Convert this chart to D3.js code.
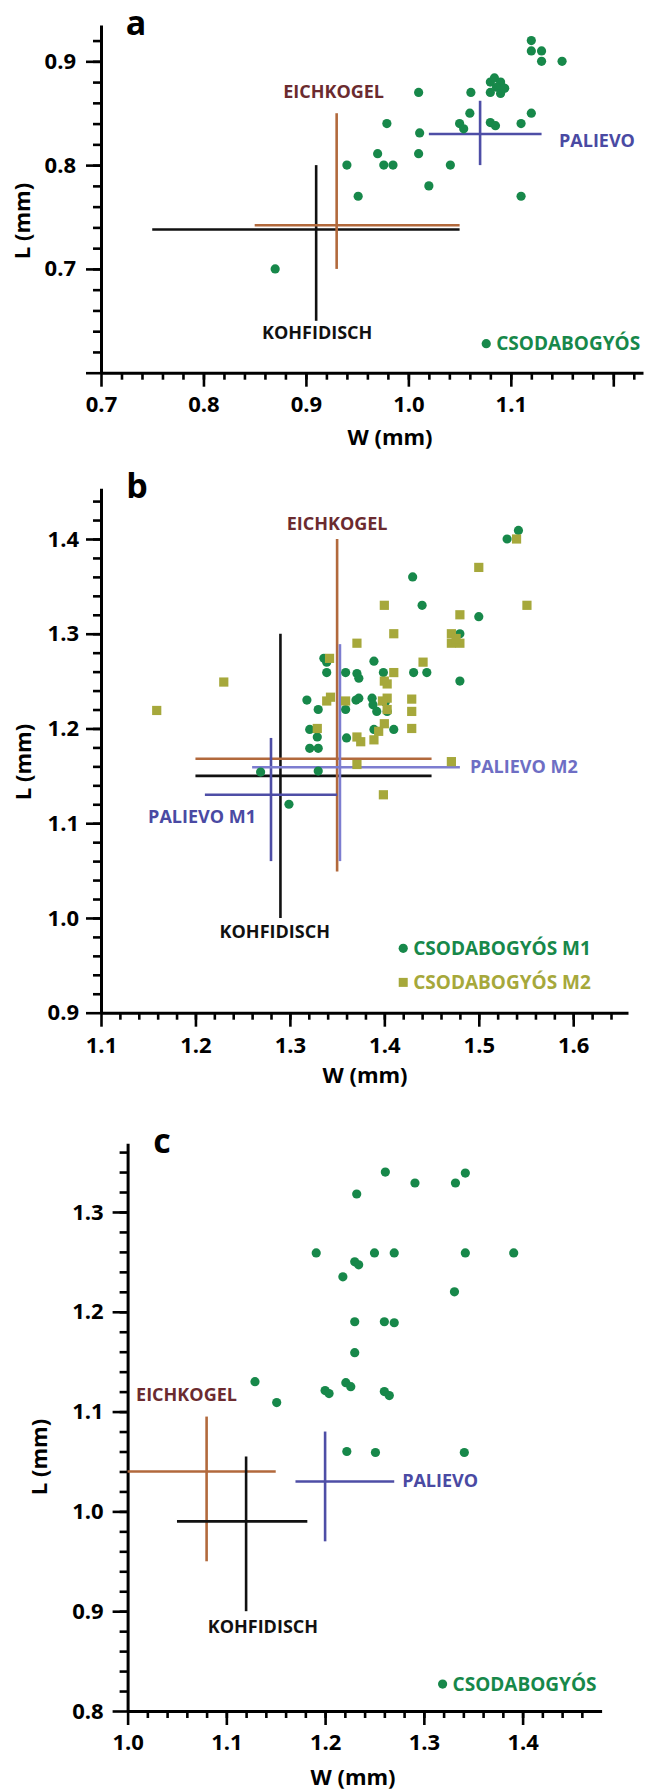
<!DOCTYPE html>
<html>
<head>
<meta charset="utf-8">
<script src="https://cdn.jsdelivr.net/npm/d3@7"></script>
<style>
  body { margin: 0; background: #fff; }
  svg text { font-family: "Open Sans", sans-serif; }
  .axis .tick text { font-weight: 700; font-size: 22px; fill: #000; }
  .axis path, .axis line { stroke: #000; }
  .axis path { stroke-width: 3; }
  .axis line { stroke-width: 2.6; }
  .lbl { font-weight: 700; font-size: 18px; }
  .leg { font-weight: 700; font-size: 19px; }
  .title { font-weight: 700; font-size: 22px; }
  .panel { font-weight: 700; font-size: 34px; }
</style>
</head>
<body>
<div id="chart"></div>
<script>
// ---- panel a : Csodabogyós (W, L in mm)
let aW = [1.12, 1.12, 1.13, 1.13, 1.15, 1.08, 1.084, 1.09, 1.092, 1.086, 1.094, 1.08, 1.09, 1.061, 1.01, 1.06, 1.12,
  0.979, 1.05, 1.054, 1.08, 1.085, 1.11, 1.011, 0.97, 1.01, 0.94, 0.976, 0.985, 1.041, 1.02, 0.951, 1.11, 0.87];
let aL = [0.92, 0.91, 0.91, 0.90, 0.90, 0.88, 0.884, 0.88, 0.875, 0.875, 0.874, 0.87, 0.869, 0.87, 0.87, 0.85, 0.85,
  0.84, 0.84, 0.835, 0.841, 0.838, 0.84, 0.831, 0.811, 0.811, 0.80, 0.80, 0.80, 0.80, 0.78, 0.77, 0.77, 0.70];

// ---- panel b : Csodabogyós M1 (circles) and M2 (squares)
let bW1 = [1.542, 1.53, 1.43, 1.44, 1.50, 1.48, 1.48, 1.431, 1.445, 1.389, 1.399, 1.336, 1.339, 1.339, 1.359, 1.371,
  1.373, 1.318, 1.370, 1.373, 1.387, 1.388, 1.392, 1.403, 1.401, 1.33, 1.359, 1.321, 1.389, 1.41, 1.329, 1.36,
  1.321, 1.33, 1.269, 1.33, 1.299];
let bL1 = [1.409, 1.40, 1.36, 1.33, 1.318, 1.30, 1.25, 1.259, 1.259, 1.271, 1.259, 1.274, 1.27, 1.259, 1.259, 1.258,
  1.253, 1.23, 1.23, 1.232, 1.232, 1.225, 1.218, 1.218, 1.228, 1.22, 1.22, 1.199, 1.199, 1.199, 1.191, 1.19,
  1.179, 1.179, 1.154, 1.155, 1.12];
let bW2 = [1.54, 1.50, 1.40, 1.551, 1.48, 1.41, 1.471, 1.471, 1.48, 1.476, 1.371, 1.342, 1.441, 1.41, 1.40, 1.403,
  1.23, 1.159, 1.339, 1.343, 1.359, 1.403, 1.398, 1.403, 1.429, 1.429, 1.329, 1.429, 1.40, 1.394, 1.371, 1.375,
  1.389, 1.371, 1.471, 1.399];
let bL2 = [1.40, 1.37, 1.33, 1.33, 1.32, 1.30, 1.30, 1.29, 1.29, 1.295, 1.29, 1.274, 1.27, 1.259, 1.25, 1.247,
  1.249, 1.219, 1.229, 1.233, 1.229, 1.232, 1.229, 1.22, 1.231, 1.218, 1.20, 1.20, 1.205, 1.197, 1.191, 1.186,
  1.188, 1.162, 1.165, 1.13];

// ---- panel c : Csodabogyós
let cW = [1.261, 1.291, 1.332, 1.342, 1.232, 1.191, 1.23, 1.234, 1.25, 1.27, 1.342, 1.391, 1.218, 1.331, 1.23, 1.26,
  1.27, 1.23, 1.129, 1.151, 1.2, 1.204, 1.221, 1.226, 1.26, 1.265, 1.222, 1.251, 1.341];
let cL = [1.34, 1.329, 1.329, 1.339, 1.318, 1.259, 1.25, 1.247, 1.259, 1.259, 1.259, 1.259, 1.235, 1.22, 1.19, 1.19,
  1.189, 1.159, 1.13, 1.109, 1.121, 1.118, 1.129, 1.125, 1.12, 1.116, 1.06, 1.059, 1.059];

// other sites: mean with range (W and L)
let crossesA = [
  { site: "Kohfidisch", w: 0.91, wMin: 0.75, wMax: 1.05, l: 0.738, lMin: 0.65, lMax: 0.80 },
  { site: "Eichkogel", w: 0.93, wMin: 0.85, wMax: 1.05, l: 0.742, lMin: 0.70, lMax: 0.85 },
  { site: "Palievo", w: 1.07, wMin: 1.02, wMax: 1.13, l: 0.83, lMin: 0.80, lMax: 0.862 },
];
let crossesB = [
  { site: "Kohfidisch", w: 1.29, wMin: 1.20, wMax: 1.45, l: 1.15, lMin: 1.00, lMax: 1.30 },
  { site: "Eichkogel", w: 1.35, wMin: 1.20, wMax: 1.45, l: 1.168, lMin: 1.049, lMax: 1.40 },
  { site: "Palievo", w: 1.28, wMin: 1.21, wMax: 1.35, l: 1.13, lMin: 1.06, lMax: 1.19 },
  { site: "PalievoM2", w: 1.353, wMin: 1.26, wMax: 1.48, l: 1.159, lMin: 1.06, lMax: 1.289 },
];
let crossesC = [
  { site: "Eichkogel", w: 1.08, wMin: 1.0, wMax: 1.15, l: 1.04, lMin: 0.95, lMax: 1.095 },
  { site: "Kohfidisch", w: 1.12, wMin: 1.05, wMax: 1.182, l: 0.99, lMin: 0.90, lMax: 1.055 },
  { site: "Palievo", w: 1.20, wMin: 1.17, wMax: 1.27, l: 1.03, lMin: 0.97, lMax: 1.08 },
];

// site labels (anchored in data units)
let namesA = [
  { text: "EICHKOGEL", site: "Eichkogel", w: 0.927, l: 0.865, anchor: "middle" },
  { text: "KOHFIDISCH", site: "Kohfidisch", w: 0.911, l: 0.632, anchor: "middle" },
  { text: "PALIEVO", site: "Palievo", w: 1.147, l: 0.817, anchor: "start" },
];
let namesB = [
  { text: "EICHKOGEL", site: "Eichkogel", w: 1.35, l: 1.4095, anchor: "middle" },
  { text: "PALIEVO M2", site: "PalievoM2", w: 1.4906, l: 1.153, anchor: "start" },
  { text: "PALIEVO M1", site: "Palievo", w: 1.207, l: 1.100, anchor: "middle" },
  { text: "KOHFIDISCH", site: "Kohfidisch", w: 1.284, l: 0.979, anchor: "middle" },
];
let namesC = [
  { text: "EICHKOGEL", site: "Eichkogel", w: 1.0086, l: 1.111, anchor: "start" },
  { text: "PALIEVO", site: "Palievo", w: 1.278, l: 1.0245, anchor: "start" },
  { text: "KOHFIDISCH", site: "Kohfidisch", w: 1.137, l: 0.8777, anchor: "middle" },
];

// legends
let legendA = [{ text: "CSODABOGYÓS", series: "M1", w: 1.076, l: 0.628 }];
let legendB = [
  { text: "CSODABOGYÓS M1", series: "M1", w: 1.42, l: 0.968 },
  { text: "CSODABOGYÓS M2", series: "M2", w: 1.42, l: 0.932 },
];
let legendC = [{ text: "CSODABOGYÓS", series: "M1", w: 1.319, l: 0.827 }];

// ticks
let aXMajor = [0.7, 0.8, 0.9, 1.0, 1.1, 1.2], aXLabels = [0.7, 0.8, 0.9, 1.0, 1.1];
let aYMajor = [0.6, 0.7, 0.8, 0.9], aYLabels = [0.7, 0.8, 0.9];
let bXMajor = [1.1, 1.2, 1.3, 1.4, 1.5, 1.6], bXLabels = [1.1, 1.2, 1.3, 1.4, 1.5, 1.6];
let bYMajor = [0.9, 1.0, 1.1, 1.2, 1.3, 1.4], bYLabels = [0.9, 1.0, 1.1, 1.2, 1.3, 1.4];
let cXMajor = [1.0, 1.1, 1.2, 1.3, 1.4], cXLabels = [1.0, 1.1, 1.2, 1.3, 1.4];
let cYMajor = [0.8, 0.9, 1.0, 1.1, 1.2, 1.3], cYLabels = [0.8, 0.9, 1.0, 1.1, 1.2, 1.3];

let lineColor = { Eichkogel: "#b2693c", Kohfidisch: "#111", Palievo: "#4e4ea6", PalievoM2: "#7d7dd0" };
let textColor = { Eichkogel: "#6b2b2f", Kohfidisch: "#111", Palievo: "#4a4aa3", PalievoM2: "#6e6ec4" };
let seriesColor = { M1: "#17884a", M2: "#a6a83b" };

let svg = d3.select("#chart").append("svg").attr("width", 646).attr("height", 1791);
svg.append("rect").attr("width", 646).attr("height", 1791).attr("fill", "#fff");

function minorTicks(lo, hi) {
  // every 0.02 between lo and hi
  let out = [];
  for (let i = Math.round(lo * 50); i <= Math.round(hi * 50); i++) out.push(i / 50);
  return out;
}

function drawPanel(p) {
  let x = d3.scaleLinear().domain(p.xDom).range(p.xRange);
  let y = d3.scaleLinear().domain(p.yDom).range(p.yRange);
  let g = svg.append("g");
  let fmt = d3.format(".1f");
  let x0 = p.xRange[0], y0 = p.yRange[0];

  // minor ticks
  g.append("g").attr("class", "axis").attr("transform", `translate(0,${y0})`)
    .call(d3.axisBottom(x).tickValues(p.xMinor).tickSize(7).tickSizeOuter(0).tickFormat(""))
    .select(".domain").remove();
  g.append("g").attr("class", "axis").attr("transform", `translate(${x0},0)`)
    .call(d3.axisLeft(y).tickValues(p.yMinor).tickSize(8).tickSizeOuter(0).tickFormat(""))
    .select(".domain").remove();

  // major ticks + labels
  g.append("g").attr("class", "axis").attr("transform", `translate(0,${y0})`)
    .call(d3.axisBottom(x).tickValues(p.xMajor).tickSize(14).tickSizeOuter(0).tickPadding(p.xPad)
      .tickFormat((d) => (p.xLabels.some((v) => Math.abs(v - d) < 1e-9) ? fmt(d) : "")));
  g.append("g").attr("class", "axis").attr("transform", `translate(${x0},0)`)
    .call(d3.axisLeft(y).tickValues(p.yMajor).tickSize(15).tickSizeOuter(0).tickPadding(p.yPad)
      .tickFormat((d) => (p.yLabels.some((v) => Math.abs(v - d) < 1e-9) ? fmt(d) : "")));

  // crosses
  p.crosses.forEach((c) => {
    let col = lineColor[c.site];
    g.append("line").attr("x1", x(c.wMin)).attr("x2", x(c.wMax)).attr("y1", y(c.l)).attr("y2", y(c.l))
      .attr("stroke", col).attr("stroke-width", 2.6);
    g.append("line").attr("x1", x(c.w)).attr("x2", x(c.w)).attr("y1", y(c.lMin)).attr("y2", y(c.lMax))
      .attr("stroke", col).attr("stroke-width", 2.6);
  });

  // points
  p.series.forEach((s) => {
    let pts = d3.zip(s.w, s.l);
    if (s.key === "M2") {
      g.selectAll(null).data(pts).enter().append("rect")
        .attr("x", (d) => x(d[0]) - 4.6).attr("y", (d) => y(d[1]) - 4.6)
        .attr("width", 9.2).attr("height", 9.2).attr("fill", seriesColor.M2);
    } else {
      g.selectAll(null).data(pts).enter().append("circle")
        .attr("cx", (d) => x(d[0])).attr("cy", (d) => y(d[1])).attr("r", 4.6)
        .attr("fill", seriesColor.M1);
    }
  });

  // site names
  p.names.forEach((n) => {
    g.append("text").attr("class", "lbl").attr("x", x(n.w)).attr("y", y(n.l))
      .attr("text-anchor", n.anchor).attr("fill", textColor[n.site]).text(n.text);
  });

  // legend
  p.legend.forEach((e) => {
    let cx = x(e.w), cy = y(e.l);
    if (e.series === "M2") {
      g.append("rect").attr("x", cx - 4.5).attr("y", cy - 4.5).attr("width", 9).attr("height", 9)
        .attr("fill", seriesColor.M2);
    } else {
      g.append("circle").attr("cx", cx).attr("cy", cy).attr("r", 4.6).attr("fill", seriesColor.M1);
    }
    g.append("text").attr("class", "leg").attr("x", cx + 10).attr("y", cy).attr("dy", "0.36em")
      .attr("fill", seriesColor[e.series]).text(e.text);
  });

  // axis titles and panel letter
  g.append("text").attr("class", "title").attr("x", p.wTitle[0]).attr("y", p.wTitle[1])
    .attr("text-anchor", "middle").attr("dy", "0.36em").text("W (mm)");
  g.append("text").attr("class", "title")
    .attr("transform", `translate(${p.lTitle[0]},${p.lTitle[1]}) rotate(-90)`)
    .attr("text-anchor", "middle").attr("dy", "0.36em").text("L (mm)");
  g.append("text").attr("class", "panel").attr("x", p.letterPos[0]).attr("y", p.letterPos[1])
    .attr("text-anchor", "middle").text(p.letter);
}

drawPanel({
  xDom: [0.7, 1.229], xRange: [101, 643], yDom: [0.6, 0.935], yRange: [372.7, 25],
  xMajor: aXMajor, xLabels: aXLabels, yMajor: aYMajor, yLabels: aYLabels,
  xMinor: minorTicks(0.72, 1.22), yMinor: minorTicks(0.62, 0.92), xPad: 10, yPad: 10,
  crosses: crossesA, names: namesA, legend: legendA,
  series: [{ key: "M1", w: aW, l: aL }],
  wTitle: [390, 437], lTitle: [22, 221], letter: "a", letterPos: [136, 35],
});

drawPanel({
  xDom: [1.1, 1.658], xRange: [101, 628], yDom: [0.9, 1.4535], yRange: [1012.7, 488.3],
  xMajor: bXMajor, xLabels: bXLabels, yMajor: bYMajor, yLabels: bYLabels,
  xMinor: minorTicks(1.12, 1.64), yMinor: minorTicks(0.92, 1.44), xPad: 11, yPad: 7,
  crosses: crossesB, names: namesB, legend: legendB,
  series: [{ key: "M1", w: bW1, l: bL1 }, { key: "M2", w: bW2, l: bL2 }],
  wTitle: [365, 1075], lTitle: [23, 762], letter: "b", letterPos: [137, 498],
});

drawPanel({
  xDom: [1.0, 1.48], xRange: [127.6, 601.6], yDom: [0.8, 1.3688], yRange: [1711, 1143.3],
  xMajor: cXMajor, xLabels: cXLabels, yMajor: cYMajor, yLabels: cYLabels,
  xMinor: minorTicks(1.02, 1.46), yMinor: minorTicks(0.82, 1.36), xPad: 9, yPad: 9,
  crosses: crossesC, names: namesC, legend: legendC,
  series: [{ key: "M1", w: cW, l: cL }],
  wTitle: [353, 1777], lTitle: [39, 1457], letter: "c", letterPos: [162, 1153],
});
</script>
</body>
</html>
